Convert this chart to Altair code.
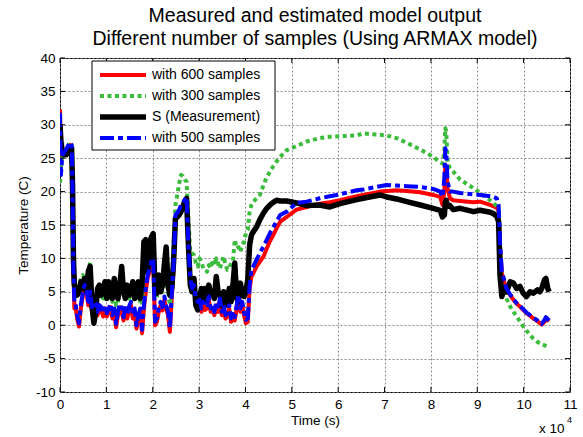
import altair as alt
import pandas as pd

TITLE_LINES = ["Measured and estimated model output",
               "Different number of samples (Using ARMAX model)"]
SERIES = ["with 600 samples", "with 300 samples", "S (Measurement)", "with 500 samples"]
COLORS = ["#ff0000", "#3cbc3c", "#000000", "#0000ff"]
WIDTHS = [4, 4, 5.5, 4]
DASHES = [None, [4, 3.5], None, [14, 4, 5, 4]]

X_TICKS = [0, 10000, 20000, 30000, 40000, 50000, 60000, 70000, 80000, 90000, 100000, 110000]
Y_TICKS = [-10, -5, 0, 5, 10, 15, 20, 25, 30, 35, 40]

# time in seconds (shared by all series)
TIME = [0, 200, 500, 900, 1300, 1700, 2100, 2500, 2700, 2900, 3100,
        3300, 3700, 4100, 4500, 4900, 5300, 5700, 6100, 6500, 6900,
        7300, 7700, 8100, 8500, 8900, 9300, 9700, 10100, 10500, 10900,
        11300, 11700, 12100, 12500, 12900, 13300, 13700, 14100, 14500, 14900,
        15300, 15700, 16100, 16500, 16900, 17300, 17700, 18100, 18500, 18900,
        19300, 19700, 20100, 20500, 20900, 21300, 21700, 22100, 22500, 22900,
        23300, 23700, 24100, 24500, 24900, 25300, 25700, 26100, 26500, 26900,
        27300, 27700, 28100, 28500, 28900, 29300, 29700, 30100, 30500, 30900,
        31300, 31700, 32100, 32500, 32900, 33300, 33700, 34100, 34500, 34900,
        35300, 35700, 36100, 36500, 36900, 37300, 37700, 38100, 38500, 38900,
        39300, 39700, 40100, 40500, 40900, 41300,
        41700, 42400, 43100, 43900, 44600, 45300, 46000, 46700, 47500, 48900,
        51000, 53200, 56000, 58200, 60400, 64000, 65400, 69000, 70500, 72600,
        74800, 77700, 80500, 82000, 82500, 82900, 83100, 83300, 83600, 84100,
        84800, 86300, 89200, 90600, 92800, 93500, 94200, 94600, 94900, 95300,
        95800, 96300, 97100, 97800, 98500, 99200, 99900, 100600, 101400, 102100,
        103000, 103500, 103900, 104500, 104800, 105200, 105500]

RED_600 = [32.3, 25, 26, 25.5, 26.2, 26.5, 27, 26.8, 20, 8, 2.5,
           3, 1, -0.2, 2.5, 4.3, 5.5, 5, 3, 4.5, 2,
           3, 2.8, 1.5, 2.5, 2.2, 1.3, 2.5, 1.3, 2, 2.7,
           1, 2, -0.3, 1.5, 2.7, 2, 0.7, 2.5, 1, 2.3,
           3, 1, 2, -0.5, 1, 2, -1.2, 2.5, 5, 7,
           8, 9, 9.5, 0, 0.5, 2, 3, 2.2, 3.8, 2.5,
           1.5, -1, 4, 8.5, 16, 16.3, 16.8, 17.5, 17.8, 18.3,
           18.7, 11.5, 6.5, 5, 5.5, 3.5, 3, 3.3, 2, 3,
           2.3, 2.5, 3.8, 2, 2.5, 1.5, 3, 2, 3.5, 1.5,
           2.5, 1, 1.3, 2.5, 0.5, 1.5, 0.7, 2.5, 4, 2,
           3, 1.5, 0.3, 0.5, 5.5, 7.3,
           7.8, 8.8, 9.5, 10.3, 11.5, 12.6, 13.5, 14.5, 15.5, 16.2,
           17.3, 17.7, 18.2, 18.4, 18.7, 19.3, 19.5, 20.0, 20.1, 20.2,
           20.1, 19.9, 19.5, 19.2, 18.0, 20.0, 24.0, 23.5, 20.5, 19.0,
           18.7, 18.6, 18.4, 18.5, 18.0, 17.8, 17.6, 17.0, 12.0, 7.8,
           6.5, 5.3, 4.5, 3.8, 3.2, 2.8, 2.3, 1.8, 1.4, 1.0,
           0.6, 0.3, 0.1, 0.5, 1.0, 0.8, 0.6]

GREEN_300 = [21.3, 23.5, 25.5, 26, 26.3, 26.8, 27.3, 27, 21, 11, 6.5,
             6, 5.5, 5, 7, 7.5, 7, 6, 7.5, 9.5, 5,
             3.5, 4, 5, 5.5, 4.5, 4, 5, 3.5, 5, 4.5,
             3.5, 5.5, 3, 3.5, 5, 6.5, 4, 4, 4.5, 4,
             4.5, 5, 3.5, 4, 5, 3.5, 3, 8, 10, 9,
             11, 12.5, 13.5, 4, 4.3, 6.5, 5.5, 5, 6.5, 7.5,
             5, 3, 5.5, 12, 18, 19.5, 21.2, 22.5, 22.3, 21.8,
             21.5, 16, 11, 10.8, 10.5, 9.3, 8.8, 10, 9.5, 8.5,
             8.3, 8, 9, 8.5, 9.8, 9, 10, 9.2, 8.5, 9.5,
             10.3, 9, 8.3, 8.5, 9.3, 9.5, 12.8, 11.5, 11.7, 11,
             12, 12.5, 13.8, 14.3, 17, 18,
             18.5, 19.0, 19.5, 21.0, 22.2, 23.0, 23.8, 24.5, 25.2, 26.2,
             26.8, 27.5, 28.0, 28.2, 28.3, 28.4, 28.7, 28.5, 28.4, 28.0,
             27.3, 26.3, 25.2, 24.4, 24.2, 26.0, 29.5, 29.0, 24.5, 23.5,
             23.0, 21.8, 20.5, 19.8, 18.7, 18.3, 17.8, 17.2, 12.0, 6.0,
             5.0, 4.0, 2.8, 2.0, 1.3, 0.6, -0.2, -0.8, -1.5, -2.0,
             -2.5, -2.7, -2.9, -3.0, -3.1, -3.2, -3.1]

BLACK_MEAS = [30, 27.5, 26, 25.5, 25.5, 25.8, 26.5, 26.5, 21, 10, 6,
              5.5, 4.5, 5, 6.5, 5.5, 7, 5, 8, 8.8, 3,
              0.3, 2, 5.5, 6, 4.5, 5, 6.5, 4, 6.5, 5,
              4, 7, 4.5, 4, 6, 8.8, 5, 4, 6, 4.5,
              5, 6.5, 4, 5.5, 6.5, 4, 6, 12.5, 12.8, 8,
              12, 13.2, 13.7, 5, 4.8, 7.5, 5, 6, 9, 11.7,
              6, 4.5, 5.5, 9.5, 16, 16.2, 16.5, 17, 17.8, 18.5,
              19, 12, 6, 5, 7, 3, 2.3, 4, 5.5, 3.5,
              5.5, 4.5, 6, 4.5, 5, 4, 7.3, 5, 4.5, 3,
              5, 4, 3, 5.5, 3.5, 6, 9.3, 4, 3.5, 6.3,
              4.8, 4.3, 5, 6.8, 12, 13.5,
              14.0, 14.7, 15.8, 16.8, 17.5, 18.0, 18.4, 18.7, 18.6, 18.6,
              18.3, 17.9, 18.0, 17.7, 18.2, 18.8, 19.0, 19.5, 19.2, 18.9,
              18.5, 18.0, 17.5, 17.2, 16.2, 16.5, 18.3, 18.7, 17.8, 17.9,
              17.3, 17.5, 17.0, 17.2, 16.9, 16.7, 16.3, 15.5, 7.5, 4.3,
              5.5, 5.0, 6.5, 6.3, 5.5, 5.8, 4.8, 4.3, 5.0, 4.8,
              5.3, 5.0, 5.5, 6.8, 7.0, 5.5, 5.0]

BLUE_500 = [31.8, 22.5, 25.5, 25.8, 26.3, 26.8, 27.4, 27, 20.5, 8.5, 3.5,
            3.5, 1.5, 0.3, 3, 4.8, 6, 5.5, 3.5, 5, 2.7,
            3.5, 3.3, 2, 3, 2.7, 1.8, 3, 1.8, 2.5, 3.2,
            1.5, 2.5, 0.2, 2, 3.2, 2.5, 1.2, 3, 1.5, 2.8,
            3.5, 1.5, 2.5, 0, 1.5, 2.5, -0.7, 3, 5.5, 7.5,
            8.5, 9.5, 10, 0.5, 1, 2.5, 3.5, 2.7, 4.3, 3,
            2, -0.5, 4.5, 9, 16.5, 16.8, 17.3, 18, 18.3, 18.8,
            19.2, 12, 7, 5.5, 6, 4, 3.5, 3.8, 2.5, 3.5,
            2.8, 3, 4.3, 2.5, 3, 2, 3.5, 2.5, 4, 2,
            3, 1.5, 1.8, 3, 1, 2, 1.2, 3, 4.5, 2.5,
            3.5, 2, 0.8, 1, 6, 8.3,
            8.8, 9.8, 10.8, 11.8, 12.8, 13.8, 14.7, 15.5, 16.5, 17.0,
            18.3, 18.5, 19.0, 19.3, 19.6, 20.2, 20.3, 20.8, 21.0, 20.9,
            20.8, 20.7, 20.4, 20.0, 19.2, 22.0, 26.5, 26.0, 21.5, 20.0,
            20.0, 19.8, 19.6, 19.5, 19.3, 19.2, 19.0, 18.0, 12.5, 8.0,
            6.8, 5.5, 4.6, 3.9, 3.3, 2.9, 2.4, 1.9, 1.5, 1.1,
            0.7, 0.4, 0.2, 0.8, 1.2, 0.9, 0.7]

VALUES = [RED_600, GREEN_300, BLACK_MEAS, BLUE_500]

W, H = 510, 334
FONT = "Liberation Sans"

xscale = alt.Scale(domain=[0, 110000], nice=False, zero=False)
yscale = alt.Scale(domain=[-10, 40], nice=False, zero=False)

x_axis = alt.Axis(values=X_TICKS, labelExpr="'' + (datum.value / 10000)", title="Time (s)",
                  grid=True, gridDash=[2, 2], gridColor="#7f7f7f", gridOpacity=0.9,
                  ticks=False, domain=False, labelFont=FONT, labelFontSize=13.5,
                  labelColor="black", labelPadding=5, labelFlush=False,
                  titleFont=FONT, titleFontSize=13.5, titleFontWeight="normal",
                  titleColor="black", titlePadding=3)
y_axis = alt.Axis(values=Y_TICKS, labelExpr="'' + datum.value", title="Temperature (C)",
                  grid=True, gridDash=[2, 2], gridColor="#7f7f7f", gridOpacity=0.9,
                  ticks=False, domain=False, labelFont=FONT, labelFontSize=13.5,
                  labelColor="black", labelPadding=5, labelFlush=False,
                  titleFont=FONT, titleFontSize=13.5, titleFontWeight="normal",
                  titleColor="black", titlePadding=5)

X_ENC = alt.X("t:Q", scale=xscale, axis=x_axis)
Y_ENC = alt.Y("v:Q", scale=yscale, axis=y_axis)

layers = []
for name, vals, color, width, dash in zip(SERIES, VALUES, COLORS, WIDTHS, DASHES):
    df = pd.DataFrame({"t": TIME, "v": vals, "series": name})
    mark_kw = dict(color=color, strokeWidth=width, clip=True, strokeJoin="round", strokeCap="butt")
    if dash is not None:
        mark_kw["strokeDash"] = dash
    layers.append(alt.Chart(df).mark_line(**mark_kw).encode(x=X_ENC, y=Y_ENC))

# inward tick marks on all four sides
xt = pd.DataFrame({"t": X_TICKS})
yt = pd.DataFrame({"v": Y_TICKS})
tick_style = dict(color="black", strokeWidth=1)
ticks = [
    alt.Chart(xt).mark_rule(**tick_style).encode(x=X_ENC, y=alt.value(H), y2=alt.value(H - 5)),
    alt.Chart(xt).mark_rule(**tick_style).encode(x=X_ENC, y=alt.value(0), y2=alt.value(5)),
    alt.Chart(yt).mark_rule(**tick_style).encode(y=Y_ENC, x=alt.value(0), x2=alt.value(5)),
    alt.Chart(yt).mark_rule(**tick_style).encode(y=Y_ENC, x=alt.value(W - 5), x2=alt.value(W)),
]

# exponent note
exp_df = pd.DataFrame({"a": ["x 10"], "b": ["4"]})
exp_layers = [
    alt.Chart(exp_df).mark_text(font=FONT, fontSize=13.5, align="left", baseline="middle",
                                color="black").encode(
        text="a:N", x=alt.value(479), y=alt.value(H + 37)),
    alt.Chart(exp_df).mark_text(font=FONT, fontSize=9, align="left", baseline="middle",
                                color="black").encode(
        text="b:N", x=alt.value(507), y=alt.value(H + 28)),
]

# legend box
leg_box = alt.Chart(pd.DataFrame({"k": [0]})).mark_rect(
    fill="white", stroke="black", strokeWidth=1).encode(
    x=alt.value(32), x2=alt.value(215), y=alt.value(3), y2=alt.value(92))
leg_layers = [leg_box]
for i, (name, color, width, dash) in enumerate(zip(SERIES, COLORS, WIDTHS, DASHES)):
    row_y = 17 + 21 * i
    d = pd.DataFrame({"series": [name]})
    rk = dict(color=color, strokeWidth=width, strokeCap="butt")
    if dash is not None:
        rk["strokeDash"] = dash
    leg_layers.append(alt.Chart(d).mark_rule(**rk).encode(
        x=alt.value(40), x2=alt.value(86), y=alt.value(row_y)))
    leg_layers.append(alt.Chart(d).mark_text(font=FONT, fontSize=14, align="left",
                                             baseline="middle", color="black").encode(
        text="series:N", x=alt.value(92), y=alt.value(row_y)))

chart = alt.layer(*layers, *ticks, *exp_layers, *leg_layers).properties(
    width=W, height=H,
    title=alt.TitleParams(text=TITLE_LINES, font=FONT, fontSize=19.5, fontWeight="normal",
                          color="black", anchor="middle", offset=2, lineHeight=23),
    padding={"left": 60, "top": 58, "right": 13, "bottom": 45},
    autosize=alt.AutoSizeParams(type="none"),
    background="white",
).configure_view(stroke="black", strokeWidth=1)

chart.save("out.html", embed_options={"renderer": "svg", "actions": False})
